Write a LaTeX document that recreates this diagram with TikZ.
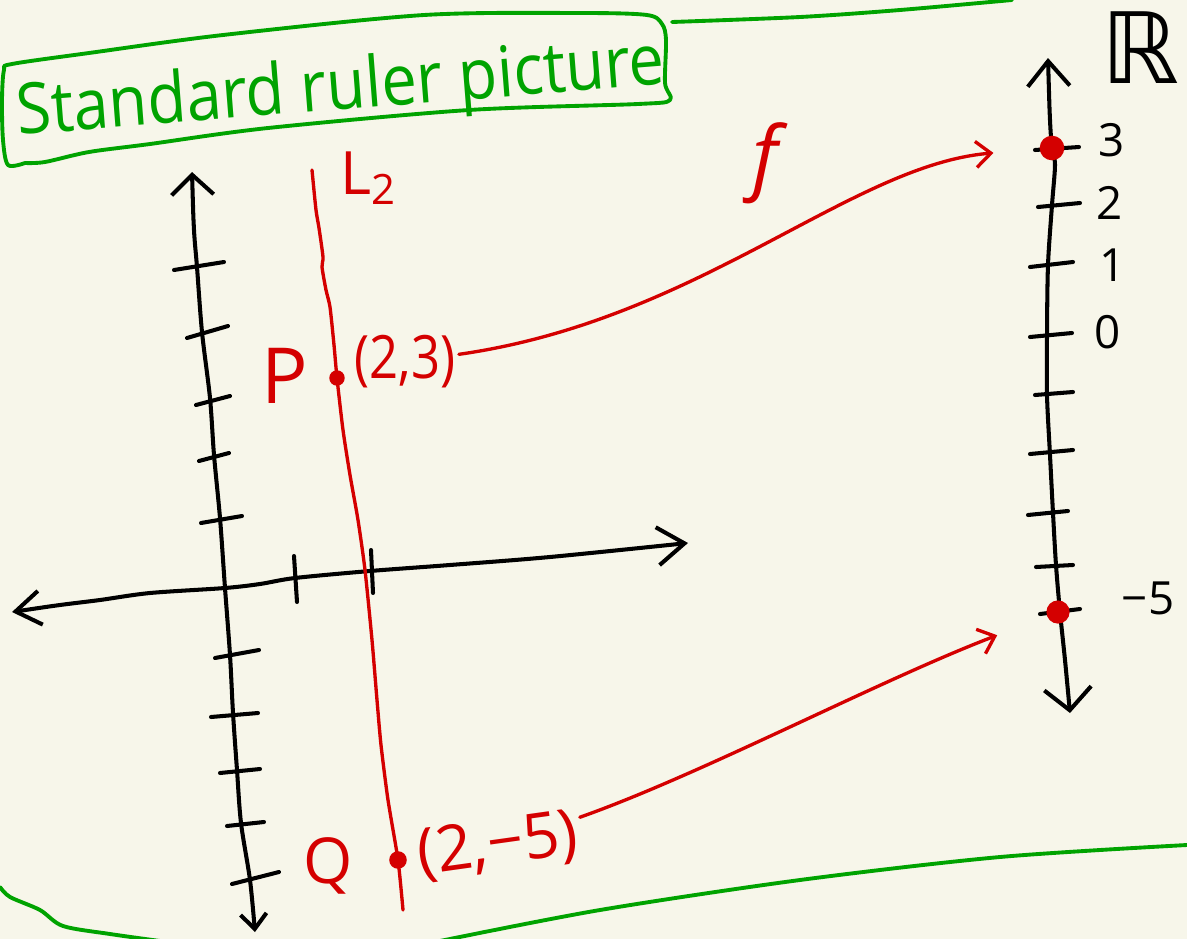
\documentclass[tikz,border=0pt]{standalone}
\usepackage{fontspec}
\setmainfont{Open Sans}
\newfontfamily\blackboard{DejaVu Sans}
\usetikzlibrary{arrows.meta}

\definecolor{paper}{RGB}{247,246,234}
\definecolor{penred}{RGB}{212,0,0}
\definecolor{pengreen}{RGB}{0,163,0}

\begin{document}
\begin{tikzpicture}[x=0.01cm,y=-0.01cm,
    blackpen/.style={line width=1.15pt, line cap=round, line join=round},
    redpen/.style={penred, line width=0.95pt, line cap=round, line join=round},
    greenpen/.style={pengreen, line width=1.1pt, line cap=round, line join=round},
    reddot/.style={circle, fill=penred, inner sep=0pt, minimum size=#1},
    redlabel/.style={text=penred, inner sep=1pt},
    ticklabel/.style={font=\fontsize{13}{15}\selectfont, inner sep=0pt}]

    \fill[paper] (0,0) rectangle (1187,939);
    \useasboundingbox (0,0) rectangle (1187,939);

    % Title frame
    \draw[greenpen] plot[smooth, tension=0.5] coordinates {(25,163) (8,165) (3,140) (2,100) (4,70) (12,64)
        (89,53) (223,35) (424,15) (580,13) (647,15) (662,24) (666,40) (665,83) (670,100)
        (638,104) (469,110) (268,128) (150,144) (89,152) (45,162) (25,163)};
    \node[text=pengreen, font=\fontsize{20}{24}\selectfont, anchor=base west, inner sep=0pt,
          rotate=4.5, xscale=0.9] (title) at (18,135) {Standard ruler picture};
    \draw[greenpen] plot[smooth] coordinates {(672,22) (800,17) (900,10) (1012,0)};
    \draw[greenpen] plot[smooth] coordinates {(0,887) (10,897) (40,910) (63,926) (110,934) (160,941)};
    \draw[greenpen] plot[smooth] coordinates {(440,941) (600,910) (800,880) (1000,857) (1187,845)};

    % Plane
    \draw[blackpen, {Straight Barb[length=2mm,width=4.2mm]}-{Straight Barb[length=1.5mm,width=2.6mm]}]
        plot[smooth] coordinates {(192,172) (194,230) (197,267)
        (202,332) (210,398) (214,455) (220,518) (225,588) (230,655) (233,713) (237,770)
        (241,823) (250,880) (255,932)};
    \draw[blackpen, {Straight Barb[length=2.5mm,width=3.4mm]}-{Straight Barb[length=2.7mm,width=3.8mm]}]
        plot[smooth] coordinates {(12,612) (60,605) (100,600)
        (150,593) (225,588) (260,584) (295,578) (370,571) (450,565) (550,557) (688,543)};
    \foreach \xa/\ya/\xb/\yb in {174/270/224/262, 187/338/228/326, 196/405/230/396,
        199/461/229/453, 201/523/242/516, 215/658/259/650, 211/717/258/713,
        220/773/260/769, 227/826/264/822, 232/884/279/872, 294/556/297/602, 371/550/373/593}
        \draw[blackpen] (\xa,\ya) -- (\xb,\yb);

    % Line L2
    \draw[redpen] plot[smooth, tension=0.4] coordinates {(312,170) (316,210) (319,228) (323,257) (322,267)
        (326,290) (330,307) (334,345) (337,378) (343,430) (350,475) (358,520) (365,570)
        (372,640) (377,700) (381,745) (388,800) (398,860) (403,910)};
    \node[redlabel, font=\fontsize{17}{20}\selectfont, anchor=west, inner sep=0pt] (ltwo) at (340,178) {L\textsubscript{2}};

    % Real line
    \draw[blackpen, {Straight Barb[length=2.5mm,width=4.2mm]}-{Straight Barb[length=2.2mm,width=4.7mm]}]
        plot[smooth] coordinates {(1048,58) (1050,120)
        (1052,148) (1055,165) (1052,205) (1048,265) (1047,335) (1047,395) (1050,455)
        (1053,513) (1056,565) (1060,612) (1065,660) (1070,713)};
    \foreach \xa/\ya/\xb/\yb in {1035/150/1079/147, 1038/207/1080/203, 1030/267/1073/262,
        1030/337/1072/333, 1035/395/1073/392, 1030/454/1073/450, 1028/515/1068/511,
        1036/567/1073/565, 1040/614/1080/609}
        \draw[blackpen] (\xa,\ya) -- (\xb,\yb);
    \node[font=\blackboard\fontsize{28}{30}\selectfont, inner sep=0pt] (reals) at (1140,48) {ℝ};
    \node[ticklabel] (three) at (1112,140) {3};
    \node[ticklabel] (two) at (1110,203) {2};
    \node[ticklabel] (one) at (1113,265) {1};
    \node[ticklabel] (zero) at (1108,332) {0};
    \node[ticklabel] (minusfive) at (1148,598) {−5};

    % Points
    \node[reddot=4.4pt] (p) at (337,378) {};
    \node[reddot=5pt] (q) at (398,860) {};
    \node[reddot=7pt] (r3) at (1052,148) {};
    \node[reddot=6.6pt] (r5) at (1058,612) {};
    \node[redlabel, font=\fontsize{22}{24}\selectfont] (plbl) at (285,376) {P};
    \node[redlabel, font=\fontsize{17}{20}\selectfont, xscale=0.85] (pxy) at (405,362) {(2,3)};
    \node[redlabel, font=\fontsize{18}{20}\selectfont] (qlbl) at (328,866) {Q};
    \node[redlabel, font=\fontsize{18}{20}\selectfont, rotate=8] (qxy) at (498,846) {(2,−5)};

    % Map f
    \node[redlabel, font=\itshape\fontsize{23}{26}\selectfont] (flbl) at (765,163) {f};
    \draw[redpen, -{Straight Barb[length=1.5mm,width=2.6mm]}, shorten >=13pt]
        (pxy) .. controls (700,320) and (850,165) .. (r3);
    \draw[redpen, -{Straight Barb[length=1.5mm,width=2.6mm]}, shorten >=15pt]
        (qxy) .. controls (700,775) and (880,680) .. (r5);

\end{tikzpicture}
\end{document}
